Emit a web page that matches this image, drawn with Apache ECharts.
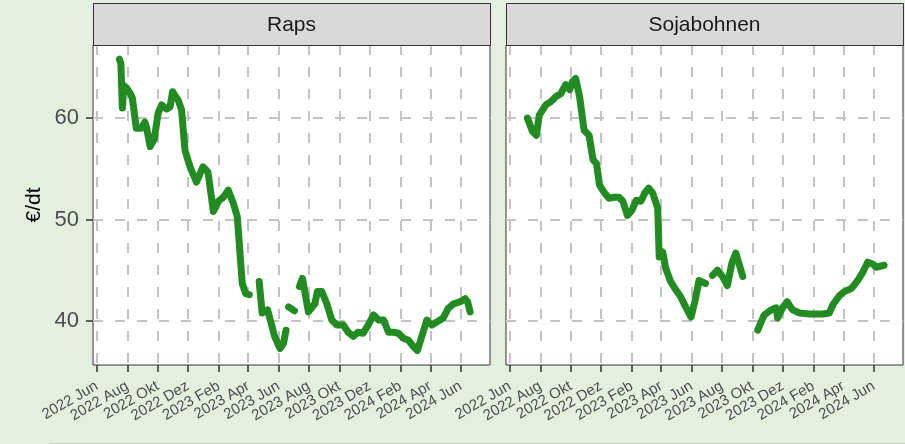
<!DOCTYPE html>
<html>
<head>
<meta charset="utf-8">
<script src="https://cdn.jsdelivr.net/npm/echarts@6/dist/echarts.min.js"></script>
<style>
html,body{margin:0;padding:0;background:#e5efdf;}
#c{width:905px;height:444px;}
</style>
</head>
<body>
<div id="c"></div>
<script>
// ---- data ----
const panels = ['Raps', 'Sojabohnen'];
const yTicks = [40, 50, 60];
const xTickDates = ['2022-06-01','2022-08-01','2022-10-01','2022-12-01','2023-02-01','2023-04-01','2023-06-01','2023-08-01','2023-10-01','2023-12-01','2024-02-01','2024-04-01','2024-06-01'];
const xTickLabels = ['2022 Jun','2022 Aug','2022 Okt','2022 Dez','2023 Feb','2023 Apr','2023 Jun','2023 Aug','2023 Okt','2023 Dez','2024 Feb','2024 Apr','2024 Jun'];

const rapsDates = ['2022-07-16','2022-07-19','2022-07-22','2022-07-25','2022-07-30','2022-08-06','2022-08-11','2022-08-19','2022-08-29','2022-09-05','2022-09-08','2022-09-16','2022-09-24','2022-10-02','2022-10-09','2022-10-19','2022-10-26','2022-10-31','2022-11-05','2022-11-11','2022-11-18','2022-11-25','2022-12-05','2022-12-18','2022-12-25','2022-12-31','2023-01-10','2023-01-21','2023-01-31','2023-02-10','2023-02-20','2023-03-02','2023-03-10','2023-03-15','2023-03-20','2023-03-27','2023-04-03','2023-04-14','2023-04-23','2023-04-29','2023-05-10','2023-05-24','2023-06-04','2023-06-11','2023-06-16','2023-06-18','2023-06-21','2023-07-03','2023-07-08','2023-07-13','2023-07-19','2023-07-31','2023-08-13','2023-08-18','2023-08-27','2023-09-06','2023-09-16','2023-09-26','2023-10-09','2023-10-19','2023-10-29','2023-11-08','2023-11-18','2023-11-28','2023-12-09','2023-12-19','2023-12-29','2024-01-08','2024-01-18','2024-01-28','2024-02-07','2024-02-17','2024-02-27','2024-03-06','2024-03-15','2024-03-25','2024-04-04','2024-04-14','2024-04-27','2024-05-07','2024-05-18','2024-05-31','2024-06-10','2024-06-15','2024-06-20'];
const rapsValues = [65.8,65.4,61.0,63.2,63.0,62.5,62.0,59.0,59.0,59.6,59.2,57.2,57.9,60.5,61.3,60.9,61.1,62.6,62.2,61.8,60.8,56.8,55.2,53.7,54.5,55.2,54.7,50.8,51.8,52.2,52.9,51.6,50.3,47.0,43.7,42.7,42.6,null,43.9,40.8,41.1,38.5,37.3,37.8,39.1,null,41.4,41.0,null,43.4,44.2,40.9,41.7,42.9,42.9,41.7,40.1,39.6,39.6,38.9,38.5,38.9,38.8,39.6,40.6,40.1,40.1,38.9,38.9,38.8,38.3,38.1,37.5,37.1,38.5,40.1,39.6,39.9,40.3,41.25,41.7,41.9,42.2,41.9,40.9];

const sojaDates = ['2022-07-06','2022-07-16','2022-07-24','2022-07-30','2022-08-12','2022-08-22','2022-09-01','2022-09-11','2022-09-21','2022-09-29','2022-10-05','2022-10-11','2022-10-19','2022-10-28','2022-11-07','2022-11-15','2022-11-22','2022-11-28','2022-12-07','2022-12-17','2022-12-27','2023-01-06','2023-01-14','2023-01-23','2023-02-01','2023-02-10','2023-02-19','2023-02-28','2023-03-07','2023-03-15','2023-03-25','2023-03-28','2023-04-04','2023-04-10','2023-04-20','2023-04-30','2023-05-10','2023-05-20','2023-05-31','2023-06-08','2023-06-16','2023-06-29','2023-07-05','2023-07-13','2023-07-23','2023-08-02','2023-08-12','2023-08-21','2023-08-29','2023-09-04','2023-09-12','2023-09-25','2023-10-12','2023-10-25','2023-11-08','2023-11-18','2023-11-21','2023-12-01','2023-12-10','2023-12-21','2024-01-04','2024-01-24','2024-02-06','2024-02-20','2024-03-04','2024-03-11','2024-03-24','2024-04-03','2024-04-17','2024-04-30','2024-05-10','2024-05-20','2024-05-31','2024-06-06','2024-06-22'];
const sojaValues = [60.0,58.7,58.3,60.3,61.3,61.6,62.1,62.4,63.3,62.8,63.6,63.9,62.1,58.8,58.3,55.9,55.5,53.4,52.7,52.1,52.2,52.2,51.8,50.4,50.9,51.9,51.8,52.7,53.1,52.6,51.1,46.3,46.8,45.2,43.9,43.1,42.4,41.4,40.4,42.0,44.0,43.7,null,44.5,45.0,44.4,43.5,45.7,46.7,45.7,44.4,null,39.1,40.6,41.1,41.3,40.3,41.3,41.9,41.1,40.8,40.7,40.7,40.7,40.8,41.6,42.5,42.9,43.2,44.0,44.8,45.8,45.6,45.3,45.5];

// ---- layout ----
const FONT = 'Liberation Sans, Arial, sans-serif';
const panelX = [93, 506];
const panelW = 397;
const stripTop = 3, stripH = 42;
const plotTop = 45, plotH = 320;
const yMin = 35.67, yMax = 67.2;
const xMinDate = '2022-05-24', xMaxDate = '2024-07-30';

function toLocalTime(s){ const p = s.split('-'); return new Date(+p[0], +p[1]-1, +p[2]).getTime(); }
const xTickTimes = xTickDates.map(toLocalTime);
function zip(d, v){ return d.map((x,i)=>[toLocalTime(x), v[i]]); }

const grids = [], xAxes = [], yAxes = [], graphics = [];
const dashGrid = {color:'#c3c3c3', width:2, type:[10,12]};
panels.forEach((name, i) => {
  grids.push({left: panelX[i], top: plotTop, width: panelW, height: plotH, show:true, backgroundColor:'#ffffff', borderColor:'#333333', borderWidth:1, containLabel:false});
  xAxes.push({
    type:'value', gridIndex:i, min:toLocalTime(xMinDate), max:toLocalTime(xMaxDate),
    axisLine:{show:false},
    axisTick:{show:true, length:7, lineStyle:{color:'#333333', width:1.5}, customValues:xTickTimes},
    axisLabel:{show:true, rotate:30, margin:20, color:'#4d4d4d', fontSize:15, fontFamily:FONT, customValues:xTickTimes,
      hideOverlap:false, showMinLabel:true, showMaxLabel:true,
      formatter:(v)=>{ const k = xTickTimes.indexOf(v); return k>=0 ? xTickLabels[k] : ''; }},
    splitLine:{show:true, lineStyle:dashGrid}
  });
  yAxes.push({
    type:'value', gridIndex:i, min:yMin, max:yMax,
    axisLine:{show:false},
    axisTick:{show:i===0, length:7, lineStyle:{color:'#333333', width:1.5}, customValues:yTicks},
    axisLabel:{show:i===0, margin:14, color:'#4d4d4d', fontSize:22, fontFamily:FONT, customValues:yTicks, formatter:(v)=>String(v)},
    splitLine:{show:true, lineStyle:dashGrid},
    name: i===0 ? '€/dt' : '', nameLocation:'middle', nameGap:48, nameRotate:90,
    nameTextStyle:{color:'#000000', fontSize:21, fontFamily:FONT}
  });
  graphics.push({type:'rect', shape:{x:panelX[i]+0.5, y:stripTop+0.5, width:panelW, height:stripH}, style:{fill:'#d9d9d9', stroke:'#333333', lineWidth:1}, z:10});
  graphics.push({type:'text', x:panelX[i]+panelW/2, y:stripTop+stripH/2+1, style:{text:name, fill:'#1a1a1a', font:'21px '+FONT, textAlign:'center', textVerticalAlign:'middle'}, z:11});
});
graphics.push({type:'line', shape:{x1:49, y1:443.5, x2:905, y2:443.5}, style:{stroke:'#c5cfbe', lineWidth:1}, z:1});

const lineStyle = {color:'#228B22', width:7, cap:'round', join:'round'};
const option = {
  backgroundColor:'#e5efdf',
  animation:false,
  grid:grids, xAxis:xAxes, yAxis:yAxes,
  graphic:graphics,
  series:[
    {type:'line', xAxisIndex:0, yAxisIndex:0, data:zip(rapsDates, rapsValues), showSymbol:false, connectNulls:false, lineStyle:lineStyle, z:5},
    {type:'line', xAxisIndex:1, yAxisIndex:1, data:zip(sojaDates, sojaValues), showSymbol:false, connectNulls:false, lineStyle:lineStyle, z:5}
  ]
};
const chart = echarts.init(document.getElementById('c'), null, {renderer:'canvas'});
chart.setOption(option);
</script>
</body>
</html>
